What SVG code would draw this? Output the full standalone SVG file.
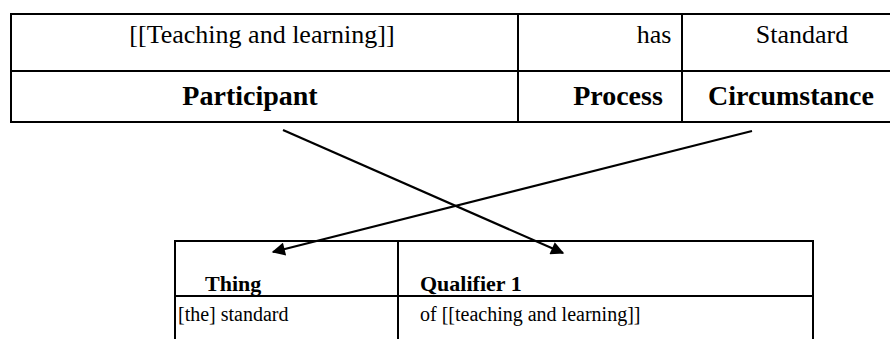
<svg xmlns="http://www.w3.org/2000/svg" width="890" height="339" viewBox="0 0 890 339">
<style>
.ln{stroke:#000;stroke-width:2;fill:none}
.t{font-family:"Liberation Serif","Times New Roman","DejaVu Serif",serif;font-size:26px;fill:#000}
.tb{font-size:28px;font-weight:bold}
.s{font-size:20px}
.sb{font-size:22px;font-weight:bold}
.m{text-anchor:middle}
.c{stroke:#000;stroke-width:2.2;fill:none}
</style>
<defs>
<marker id="ah" viewBox="0 0 10 10" refX="9" refY="5" markerWidth="7" markerHeight="6" markerUnits="strokeWidth" orient="auto">
<path d="M0,0 L10,5 L0,10 z" fill="#000"/>
</marker>
</defs>
<g id="top-table">
<path class="ln" d="M11,14 H891 M11,71 H891 M11,122 H891 M11,13 V123 M518,14 V122 M682,14 V122"/>
<text class="t m" x="262" y="43">[[Teaching and learning]]</text>
<text class="t m" x="654" y="43">has</text>
<text class="t m" x="802" y="43">Standard</text>
<text class="t tb m" x="250" y="105">Participant</text>
<text class="t tb m" x="618" y="105">Process</text>
<text class="t tb m" x="791" y="105">Circumstance</text>
</g>
<g id="bottom-table">
<path class="ln" d="M175,241 H813 M175,296 H813 M175,240 V340 M398,241 V340 M813,240 V340"/>
<text class="t sb" x="205" y="291">Thing</text>
<text class="t sb" x="420" y="291">Qualifier 1</text>
<text class="t s" x="178" y="321">[the] standard</text>
<text class="t s" x="420" y="321">of [[teaching and learning]]</text>
</g>
<g id="connectors">
<line class="c" x1="283" y1="130" x2="563" y2="253" marker-end="url(#ah)"/>
<line class="c" x1="752" y1="131" x2="273" y2="252" marker-end="url(#ah)"/>
</g>
</svg>
